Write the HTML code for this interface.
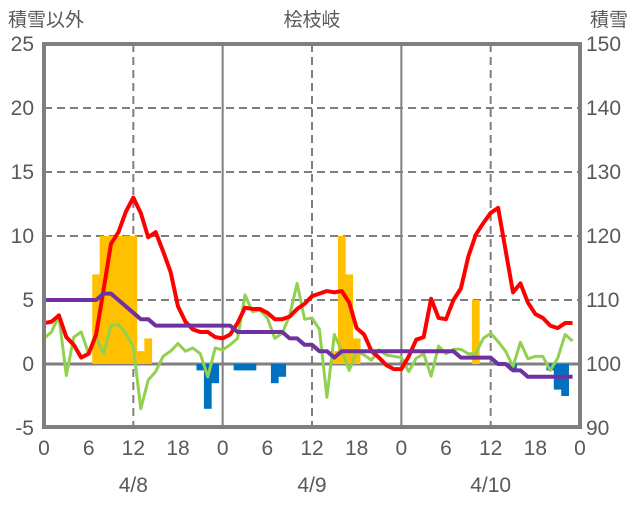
<!DOCTYPE html>
<html><head><meta charset="utf-8">
<style>
html,body{margin:0;padding:0;background:#fff;}
svg text{font-family:"Liberation Sans","Noto Sans CJK JP",sans-serif;fill:#595959;}
</style></head>
<body>
<svg id="chart" width="636" height="501" viewBox="0 0 636 501" xmlns="http://www.w3.org/2000/svg">
<g id="grid"></g>
<g id="bars"></g>
<g id="lines"></g>
<g id="axes"></g>
<text x="8" y="26" font-size="19">積雪以外</text>
<text x="312" y="26" font-size="19" text-anchor="middle">桧枝岐</text>
<text x="628" y="26" font-size="19" text-anchor="end">積雪</text>
</svg>
<script>
const leftTicks=[-5,0,5,10,15,20,25];
const rightTicks=[90,100,110,120,130,140,150];
const hourTicks=[0,6,12,18,24,30,36,42,48,54,60,66,72];
const hourLabels=["0","6","12","18","0","6","12","18","0","6","12","18","0"];
const dateLabels=["4/8","4/9","4/10"];
const datePos=[12,36,60];
const red=[3.2,3.3,3.8,2.1,1.5,0.5,0.8,2.3,5.8,9.4,10.3,11.9,13.0,11.8,9.9,10.3,8.8,7.2,4.5,3.3,2.7,2.5,2.5,2.1,
2.0,2.3,3.2,4.4,4.3,4.3,4.0,3.5,3.5,3.7,4.3,4.7,5.3,5.5,5.7,5.6,5.7,4.8,2.8,2.3,1.0,0.5,-0.1,-0.4,
-0.4,0.6,1.9,2.1,5.1,3.6,3.5,5.0,5.9,8.4,10.1,11.0,11.8,12.2,8.9,5.6,6.3,4.8,3.9,3.6,3.0,2.8,3.2,3.2];
const green=[2.0,2.5,3.75,-0.9,2.1,2.5,0.8,2.1,0.8,3.0,3.1,2.4,1.35,-3.5,-1.25,-0.6,0.6,1.0,1.6,1.0,1.25,0.8,-1.0,1.25,
1.1,1.5,2.0,5.4,4.1,4.2,3.6,2.0,2.4,3.8,6.3,3.5,3.6,2.7,-2.6,2.3,1.0,-0.5,1.0,0.7,0.3,1.1,0.7,0.6,
0.5,-0.6,0.45,0.8,-0.95,1.4,0.8,1.15,1.15,0.8,0.8,2.0,2.4,1.75,1.0,-0.2,1.7,0.4,0.6,0.6,-0.5,0.45,2.3,1.8];
const snowDepth=[110,110,110,110,110,110,110,110,111,111,110,109,108,107,107,106,106,106,106,106,106,106,106,106,
106,106,105,105,105,105,105,105,105,104,104,103,103,102,102,101,102,102,102,102,102,102,102,102,
102,102,102,102,102,102,102,102,101,101,101,101,101,100,100,99,99,98,98,98,98,98,98,98];
const snowfallHours=[7,8,9,10,11,12,13,14,39,40,41,42,58];
const snowfallValues=[7,10,10,10,10,10,1,2,1,10,7,2,5];
const meltHours=[21,22,23,26,27,28,31,32,63,68,69,70];
const meltValues=[-0.5,-3.5,-1.5,-0.5,-0.5,-0.5,-1.5,-1,-0.5,-0.5,-2,-2.5];

const X0=44,X1=580,Y0=44,Y1=428;
const x=h=>X0+(X1-X0)*h/72;
const yL=v=>Y1-(v+5)/30*(Y1-Y0);
const yR=v=>Y1-(v-90)/60*(Y1-Y0);
const NS="http://www.w3.org/2000/svg";
function mk(tag,attrs,parent){const e=document.createElementNS(NS,tag);for(const k in attrs)e.setAttribute(k,attrs[k]);parent.appendChild(e);return e;}
const grid=document.getElementById('grid'),bars=document.getElementById('bars'),lines=document.getElementById('lines'),axes=document.getElementById('axes');

leftTicks.forEach(v=>{
  if(v>-5&&v<25&&v!==0){const l=mk('line',{x1:X0,x2:X1,y1:yL(v),y2:yL(v),stroke:'#7f7f7f','stroke-width':2,'stroke-dasharray':'8,5'},grid);
  
  }
  const t=mk('text',{x:34,y:yL(v)+7,'font-size':21,'text-anchor':'end'},axes);t.textContent=String(v);
  
  
});
rightTicks.forEach(v=>{
  const t=mk('text',{x:586,y:yR(v)+7,'font-size':21},axes);t.textContent=String(v);
  
  
});
hourTicks.forEach((h,i)=>{
  if(h>0&&h<72&&h%12===0){
    const day=h%24===0;
    const l=mk('line',{x1:x(h),x2:x(h),y1:Y0,y2:Y1,stroke:'#7f7f7f','stroke-width':2},grid);
    if(!day)l.setAttribute('stroke-dasharray','8,5');
    
    
  }
  const t=mk('text',{x:x(h),y:455,'font-size':21,'text-anchor':'middle'},axes);t.textContent=hourLabels[i];
  
  
});
dateLabels.forEach((d,i)=>{
  const t=mk('text',{x:x(datePos[i]),y:492,'font-size':21,'text-anchor':'middle'},axes);t.textContent=d;
  
  
});
const bw=(X1-X0)/72+0.3;
snowfallHours.forEach((h,i)=>{
  const v=snowfallValues[i];
  const r=mk('rect',{x:x(h)-bw/2,y:yL(v),width:bw,height:yL(0)-yL(v),fill:'#ffc000'},bars);
  
  
});
meltHours.forEach((h,i)=>{
  const v=meltValues[i];
  const r=mk('rect',{x:x(h)-bw/2,y:yL(0),width:bw,height:yL(v)-yL(0),fill:'#0070c0'},bars);
  
  
});
const zl=mk('line',{x1:X0,x2:X1,y1:yL(0),y2:yL(0),stroke:'#7f7f7f','stroke-width':3},grid);


function poly(arr,fy,color,w,name){
  const p=mk('polyline',{points:arr.map((v,i)=>x(i)+','+fy(v)).join(' '),fill:'none',stroke:color,'stroke-width':w,'stroke-linejoin':'round'},lines);
  
  
}
poly(green,yL,'#92d050',3,'green-series-line');
poly(red,yL,'#ff0000',4,'temperature-line');
poly(snowDepth,yR,'#7030a0',4,'snow-depth-line');
const fr=mk('rect',{x:X0,y:Y0,width:X1-X0,height:427-Y0,fill:'none',stroke:'#7f7f7f','stroke-width':4},axes);


</script>
</body></html>
